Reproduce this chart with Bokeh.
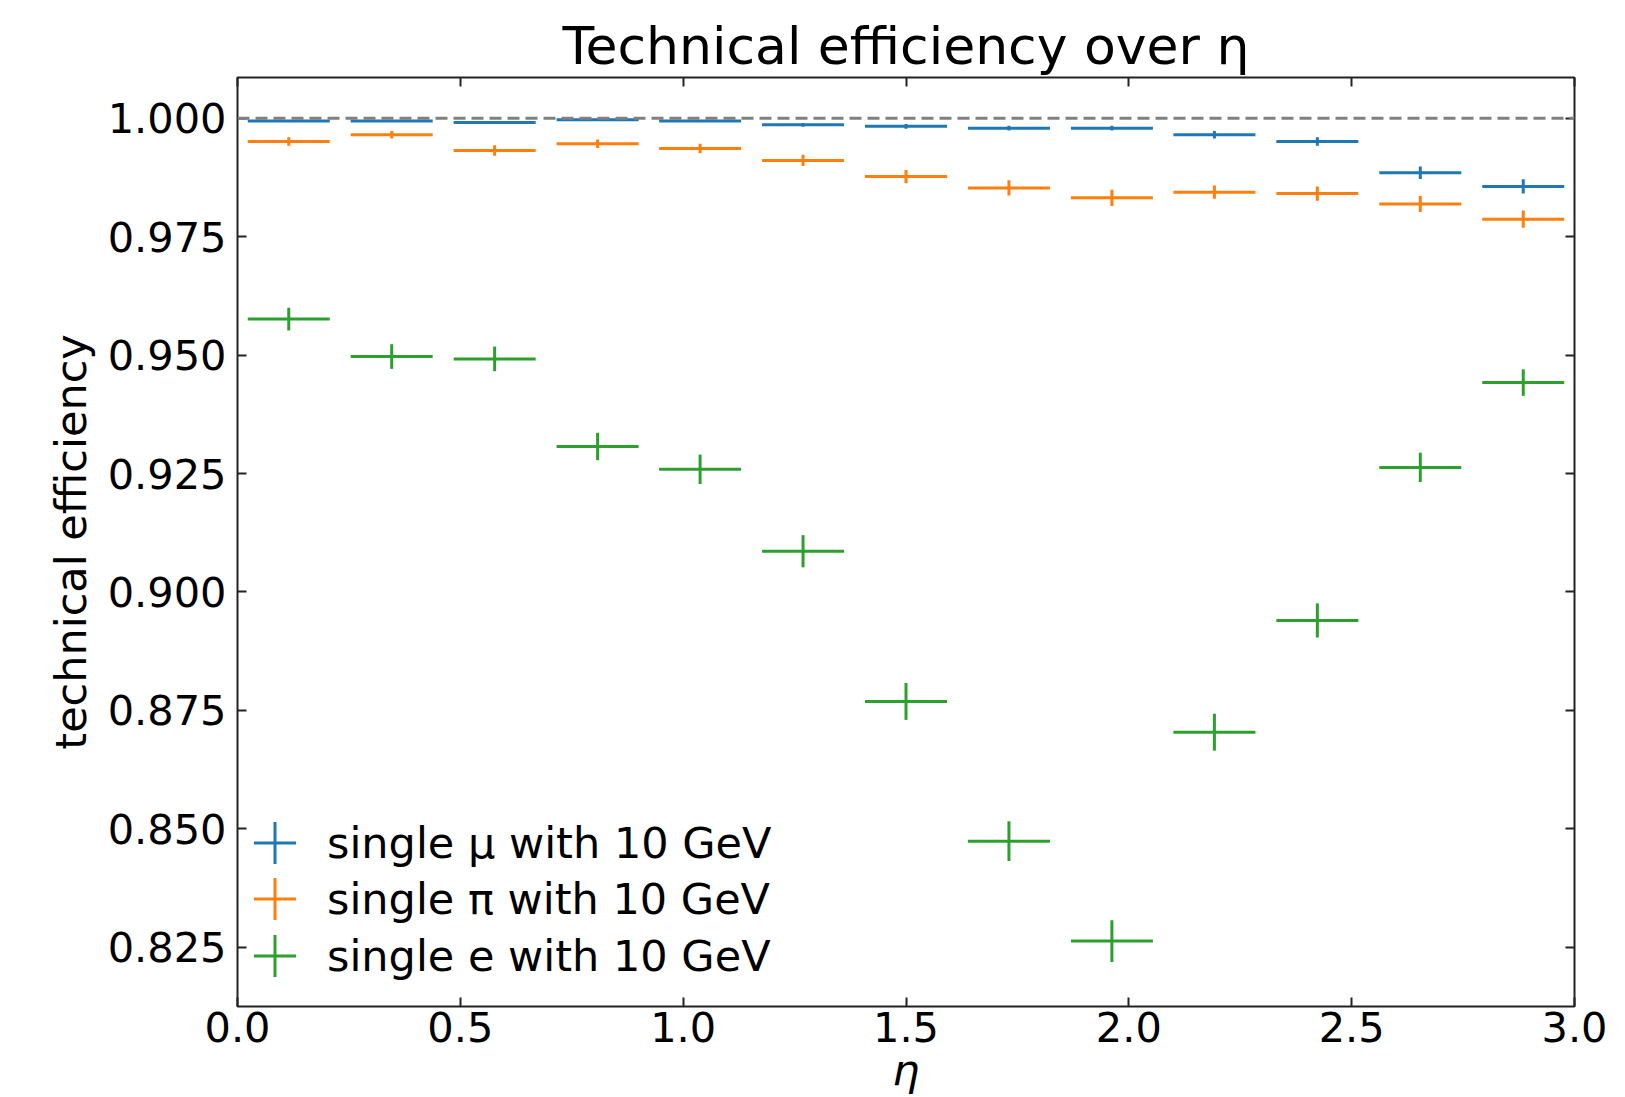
import numpy as np
from bokeh.plotting import figure
from bokeh.models import (Range1d, LinearAxis, FixedTicker, PrintfTickFormatter,
                          CustomJSTickFormatter, Span, Legend, LegendItem)
from bokeh.embed import file_html
from bokeh.resources import INLINE

# ---- data ----
eta = [0.115, 0.346, 0.577, 0.808, 1.038, 1.269, 1.500, 1.731, 1.962, 2.192, 2.423, 2.654, 2.885]
eta_err = [0.092, 0.092, 0.092, 0.092, 0.092, 0.092, 0.092, 0.092, 0.092, 0.092, 0.092, 0.092, 0.092]

mu_eff = [0.9994, 0.9994, 0.9991, 0.9997, 0.9994, 0.9986, 0.9983, 0.9979, 0.9979, 0.9965, 0.9951, 0.9885, 0.9856]
mu_err = [0.0002, 0.0002, 0.0002, 0.0002, 0.0002, 0.0004, 0.0005, 0.0005, 0.0005, 0.0008, 0.0009, 0.0013, 0.0015]

pi_eff = [0.9951, 0.9965, 0.9932, 0.9946, 0.9936, 0.9911, 0.9877, 0.9853, 0.9832, 0.9844, 0.9841, 0.9819, 0.9787]
pi_err = [0.0009, 0.0008, 0.0011, 0.0009, 0.0010, 0.0012, 0.0014, 0.0016, 0.0017, 0.0014, 0.0015, 0.0017, 0.0018]

e_eff = [0.9576, 0.9497, 0.9492, 0.9307, 0.9259, 0.9086, 0.8769, 0.8474, 0.8263, 0.8704, 0.8940, 0.9263, 0.9442]
e_err = [0.0024, 0.0026, 0.0026, 0.0029, 0.0031, 0.0034, 0.0039, 0.0042, 0.0044, 0.0039, 0.0036, 0.0031, 0.0028]

series_labels = ["single μ with 10 GeV", "single π with 10 GeV", "single e with 10 GeV"]
series_colors = ["#1f77b4", "#ff7f0e", "#2ca02c"]

x_ticks = [0.0, 0.5, 1.0, 1.5, 2.0, 2.5, 3.0]
y_ticks = [0.825, 0.850, 0.875, 0.900, 0.925, 0.950, 0.975, 1.000]
reference_level = 1.0

FONT = "DejaVu Sans"

p = figure(width=1625, height=1097,
           x_range=Range1d(0.0, 3.0), y_range=Range1d(0.8125, 1.0086),
           output_backend="svg", toolbar_location=None,
           min_border_left=237, min_border_right=51,
           min_border_top=77, min_border_bottom=91)

p.background_fill_color = "white"
p.border_fill_color = "white"
p.xgrid.visible = False
p.ygrid.visible = False
p.outline_line_color = "#222222"
p.outline_line_width = 2

# title
p.title.text = "Technical efficiency over η"
p.title.align = "center"
p.title.text_font = FONT
p.title.text_font_size = "52px"
p.title.text_font_style = "normal"
p.title.text_color = "black"
p.title.standoff = 4

# main axes
xa = p.xaxis[0]
xa.ticker = FixedTicker(ticks=x_ticks)
xa.formatter = PrintfTickFormatter(format="%.1f")
ya = p.yaxis[0]
ya.ticker = FixedTicker(ticks=y_ticks)
ya.formatter = PrintfTickFormatter(format="%.3f")

for ax in (xa, ya):
    ax.axis_line_color = None
    ax.major_tick_in = 9
    ax.major_tick_out = 0
    ax.major_tick_line_width = 2
    ax.major_tick_line_color = "#222222"
    ax.minor_tick_line_color = None
    ax.major_label_text_font = FONT
    ax.major_label_text_font_size = "41.5px"
    ax.major_label_text_color = "black"
    ax.axis_label_text_font = FONT
    ax.axis_label_text_font_size = "43px"
    ax.axis_label_text_color = "black"

xa.axis_label = "η"
xa.axis_label_text_font_style = "italic"
xa.major_label_standoff = 5
xa.axis_label_standoff = 0

ya.axis_label = "technical efficiency"
ya.axis_label_text_font_style = "normal"
ya.major_label_standoff = 11
ya.axis_label_standoff = 9

# mirrored ticks on top and right
top_ax = LinearAxis(ticker=FixedTicker(ticks=x_ticks),
                    formatter=CustomJSTickFormatter(code="return ''"))
right_ax = LinearAxis(ticker=FixedTicker(ticks=y_ticks),
                      formatter=CustomJSTickFormatter(code="return ''"))
for ax in (top_ax, right_ax):
    ax.axis_line_color = None
    ax.major_tick_in = 9
    ax.major_tick_out = 0
    ax.major_tick_line_width = 2
    ax.major_tick_line_color = "#222222"
    ax.minor_tick_line_color = None
    ax.major_label_text_font_size = "0px"
    ax.major_label_standoff = 0
p.add_layout(top_ax, "above")
p.add_layout(right_ax, "right")

# error bars
x = np.array(eta)
xe = np.array(eta_err)
legend_renderers = []
for yv, ye, col in zip([mu_eff, pi_eff, e_eff], [mu_err, pi_err, e_err], series_colors):
    y = np.array(yv)
    yerr = np.array(ye)
    p.segment(x0=x - xe, x1=x + xe, y0=y, y1=y, line_color=col, line_width=3)
    p.segment(x0=x, x1=x, y0=y - yerr, y1=y + yerr, line_color=col, line_width=3)
    r = p.scatter(x=x, y=y, marker="cross", size=0, line_color=col, line_width=3)
    legend_renderers.append(r)

# reference line at 1
p.add_layout(Span(location=reference_level, dimension="width", line_color="gray",
                  line_width=3, line_dash="12 6"))

# legend: one entry per block so the rows can sit close together
legend_bottoms = [111, 55, -2]
for lab, r, yb in zip(series_labels, legend_renderers, legend_bottoms):
    lg = Legend(items=[LegendItem(label=lab, renderers=[r])], location=(-15, yb),
                padding=0, margin=0, spacing=0, label_standoff=0,
                glyph_width=105, glyph_height=105,
                border_line_color=None, background_fill_alpha=0,
                label_text_font=FONT, label_text_font_size="43px",
                label_text_color="black")
    p.add_layout(lg, "center")

open("out.html", "w").write(file_html(p, INLINE))
